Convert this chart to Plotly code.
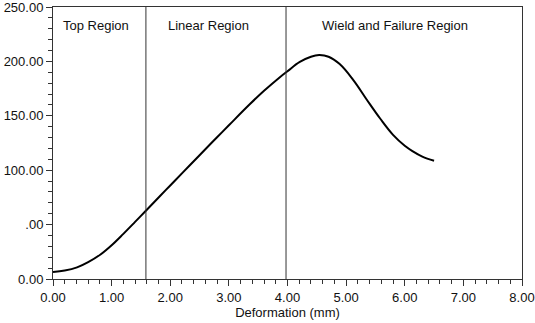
import plotly.graph_objects as go

deformation = [0, 0.2, 0.41, 0.6, 0.81, 1.0, 1.2, 1.4, 1.58, 1.83, 2.0, 2.22, 2.5, 2.79, 3.0,
               3.36, 3.6, 3.87, 4.0, 4.21, 4.4, 4.54, 4.7, 4.89, 5.12, 5.35, 5.58, 5.8, 6.0,
               6.14, 6.3, 6.5]
load = [6.5, 7.8, 10.7, 15.5, 22.5, 31, 41.5, 52.5, 62.5, 76.5, 86, 98.2, 113.8, 129.8, 141.3,
        160.8, 173, 185.5, 191, 199.5, 204.3, 205.8, 204.3, 197.5, 183, 165, 147.5, 132.5, 122.5,
        117.3, 112.5, 108.7]

region_bounds = [1.585, 3.975]
region_labels = ["Top Region", "Linear Region", "Wield and Failure Region"]
region_label_x = [0.73, 2.66, 5.83]
region_label_y = 233

x_ticks = [0, 1, 2, 3, 4, 5, 6, 7, 8]
x_ticktext = ["0.00", "1.00", "2.00", "3.00", "4.00", "5.00", "6.00", "7.00", "8.00"]
y_ticks = [0, 50, 100, 150, 200, 250]
y_ticktext = ["0.00", ".00", "100.00", "150.00", "200.00", "250.00"]

FONT = "Liberation Sans, Arial, Helvetica, sans-serif"
FS = 13

fig = go.Figure()
fig.add_trace(go.Scatter(x=deformation, y=load, mode="lines",
                         line=dict(color="black", width=2, shape="spline", smoothing=1.1),
                         showlegend=False, hoverinfo="skip"))

for b in region_bounds:
    fig.add_shape(type="line", x0=b, x1=b, y0=0, y1=250, xref="x", yref="y",
                  line=dict(color="#333333", width=1))

for lab, lx in zip(region_labels, region_label_x):
    fig.add_annotation(x=lx, y=region_label_y, text=lab, showarrow=False,
                       xanchor="center", yanchor="middle",
                       font=dict(family=FONT, size=FS, color="#111111"))

fig.update_layout(
    width=535, height=323,
    margin=dict(l=53, r=13, t=7, b=44, autoexpand=False),
    paper_bgcolor="white", plot_bgcolor="white",
    font=dict(family=FONT, size=FS, color="#111111"),
)
fig.update_xaxes(
    range=[0, 8], tickvals=x_ticks, ticktext=x_ticktext, automargin=False,
    ticklabeloverflow="allow",
    showgrid=False, zeroline=False,
    showline=True, linecolor="#333333", linewidth=1, mirror=True,
    ticks="outside", ticklen=6, tickcolor="#333333", tickwidth=1,
    minor=dict(dtick=0.2, ticks="outside", ticklen=4, tickcolor="#333333", showgrid=False),
    title=dict(text="Deformation (mm)", standoff=3, font=dict(family=FONT, size=FS)),
    tickfont=dict(family=FONT, size=FS),
)
fig.update_yaxes(
    range=[0, 250], tickvals=y_ticks, ticktext=y_ticktext, automargin=False,
    ticklabeloverflow="allow",
    showgrid=False, zeroline=False,
    showline=True, linecolor="#333333", linewidth=1, mirror=True,
    ticks="outside", ticklen=6, tickcolor="#333333", tickwidth=1,
    minor=dict(dtick=10, ticks="outside", ticklen=4, tickcolor="#333333", showgrid=False),
    tickfont=dict(family=FONT, size=FS),
)

fig.write_html("out.html")
